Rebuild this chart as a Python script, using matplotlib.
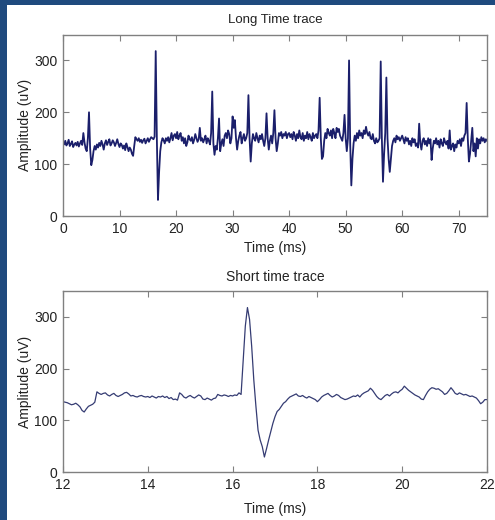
import numpy as np
import matplotlib
matplotlib.use('Agg')
from matplotlib import pyplot as plt
from matplotlib.patches import Rectangle

# long recording, one sample every 0.2 ms from 0 to 75 ms
long_step = 0.2
long_amp = [
    142, 138, 145, 136, 140, 147, 135, 139, 144, 133, 138, 141, 136, 143, 134, 140, 145, 137, 160, 142,
    130, 125, 150, 200, 130, 98, 108, 125, 135, 128, 138, 132, 141, 135, 145, 138, 128, 140, 146, 137,
    143, 148, 136, 140, 146, 142, 135, 141, 148, 139, 133, 140, 137, 130, 136, 127, 140, 133, 125, 132,
    128, 120, 116, 135, 152, 148, 145, 150, 143, 147, 141, 146, 149, 140, 145, 150, 143, 148, 152, 150,
    148, 153, 318, 150, 31, 85, 125, 142, 150, 146, 140, 150, 145, 152, 142, 150, 160, 146, 155, 158,
    150, 162, 148, 155, 160, 145, 152, 140, 150, 135, 142, 155, 148, 145, 152, 140, 147, 158, 150, 143,
    148, 170, 145, 150, 142, 148, 155, 140, 150, 145, 138, 160, 240, 140, 118, 135, 128, 150, 188, 125,
    140, 148, 135, 155, 160, 150, 165, 158, 140, 150, 192, 170, 185, 150, 128, 145, 155, 162, 140, 150,
    158, 145, 150, 160, 233, 150, 105, 140, 158, 150, 145, 160, 150, 142, 155, 148, 158, 145, 135, 150,
    198, 150, 128, 145, 155, 140, 160, 204, 150, 125, 140, 160, 155, 162, 150, 158, 155, 162, 150, 158,
    160, 152, 158, 148, 162, 155, 145, 158, 150, 165, 152, 148, 160, 145, 155, 150, 162, 148, 158, 152,
    145, 160, 150, 155, 158, 150, 165, 228, 150, 110, 115, 145, 160, 150, 168, 160, 155, 165, 150, 168,
    160, 150, 170, 162, 168, 155, 150, 145, 160, 195, 150, 125, 150, 300, 140, 59, 110, 140, 155, 145,
    160, 150, 165, 155, 160, 150, 165, 158, 172, 160, 155, 162, 150, 148, 158, 145, 140, 150, 142, 145,
    150, 298, 150, 66, 120, 160, 267, 150, 110, 85, 110, 135, 145, 150, 142, 155, 148, 152, 145, 150,
    155, 148, 140, 152, 145, 150, 138, 145, 135, 150, 142, 148, 135, 140, 132, 178, 140, 128, 145, 150,
    138, 145, 135, 150, 140, 148, 108, 130, 145, 140, 150, 138, 145, 132, 148, 140, 135, 150, 142, 138,
    145, 130, 165, 128, 135, 140, 125, 138, 132, 145, 140, 148, 135, 150, 145, 155, 160, 218, 150, 105,
    120, 145, 170, 125, 140, 115, 150, 130, 148, 140, 152, 145, 150, 142, 148, 145,
]

# close-up of the 12-22 ms window, one sample every 0.05 ms
short_start = 12.0
short_step = 0.05
short_amp = [
    136, 135, 134, 132, 130, 131, 133, 130, 126, 119, 116, 122, 127, 129, 131, 135, 155, 152, 150, 152,
    153, 149, 147, 150, 152, 148, 146, 148, 150, 153, 154, 151, 147, 148, 146, 145, 147, 148, 146, 145,
    146, 144, 147, 145, 143, 146, 145, 147, 144, 146, 142, 144, 140, 141, 139, 153, 150, 145, 143, 146,
    148, 145, 143, 146, 149, 147, 141, 140, 143, 141, 139, 142, 143, 150, 148, 147, 149, 148, 146, 148,
    147, 149, 148, 153, 150, 217, 282, 318, 295, 243, 178, 127, 81, 62, 49, 29, 45, 62, 78, 94,
    107, 117, 121, 127, 133, 136, 141, 145, 147, 149, 151, 147, 146, 148, 145, 143, 146, 144, 142, 140,
    136, 140, 145, 148, 150, 152, 148, 145, 147, 150, 148, 144, 142, 140, 141, 143, 145, 147, 146, 149,
    145, 150, 153, 155, 157, 162, 158, 152, 146, 142, 140, 144, 148, 150, 147, 151, 154, 155, 153, 157,
    160, 166, 162, 158, 155, 152, 149, 147, 145, 141, 140, 148, 155, 160, 163, 162, 160, 161, 158, 155,
    150, 152, 157, 163, 158, 152, 150, 153, 151, 149, 150, 148, 146, 147, 145, 143, 138, 132, 135, 140,
    140,
]

long_ticks = [0, 10, 20, 30, 40, 50, 60, 70]
short_ticks = [12, 14, 16, 18, 20, 22]
amp_ticks = [0, 100, 200, 300]

plt.rcParams['font.family'] = ['Liberation Sans', 'DejaVu Sans']
plt.rcParams['font.size'] = 9


def style_axes(ax):
    for side in ax.spines.values():
        side.set_color('#808080')
        side.set_linewidth(1.0)
    ax.tick_params(direction='in', length=4, width=0.8, color='#808080',
                   top=True, right=True, labelsize=10, labelcolor='#222222', pad=4)
    ax.set_yticks(amp_ticks)
    ax.set_ylim(0, 350)


def main():
    fig = plt.figure(figsize=(4.95, 5.2), dpi=100)
    fig.patch.set_facecolor('white')

    # slide frame: blue strip along the left and the top
    fig.patches.append(Rectangle((0, 0), 7 / 495, 1, transform=fig.transFigure,
                                 facecolor='#1f4a7e', edgecolor='none'))
    fig.patches.append(Rectangle((0, 1 - 5 / 520), 1, 5 / 520, transform=fig.transFigure,
                                 facecolor='#1f4a7e', edgecolor='none'))

    ax1 = fig.add_axes([63 / 495, 1 - 216 / 520, 424 / 495, 181.5 / 520])
    t_long = np.arange(len(long_amp)) * long_step
    ax1.plot(t_long, long_amp, color='#1b1f6b', linewidth=1.3)
    ax1.set_xlim(0, 75)
    ax1.set_xticks(long_ticks)
    style_axes(ax1)
    ax1.set_title('Long Time trace', fontsize=9.5, color='#222222', pad=8)
    ax1.set_xlabel('Time (ms)', fontsize=10, color='#222222')
    ax1.set_ylabel('Amplitude (uV)', fontsize=10, color='#222222')
    ax1.xaxis.set_label_coords(0.5, -0.135)
    ax1.yaxis.set_label_coords(-0.072, 0.5)

    ax2 = fig.add_axes([63 / 495, 1 - 472 / 520, 424 / 495, 181 / 520])
    t_short = short_start + np.arange(len(short_amp)) * short_step
    ax2.plot(t_short, short_amp, color='#353c73', linewidth=0.9)
    ax2.set_xlim(12, 22)
    ax2.set_xticks(short_ticks)
    style_axes(ax2)
    ax2.set_title('Short time trace', fontsize=10, color='#222222', pad=7)
    ax2.set_xlabel('Time (ms)', fontsize=10, color='#222222')
    ax2.set_ylabel('Amplitude (uV)', fontsize=10, color='#222222')
    ax2.xaxis.set_label_coords(0.5, -0.165)
    ax2.yaxis.set_label_coords(-0.072, 0.5)

    fig.savefig('out.png', dpi=100)


if __name__ == '__main__':
    main()
